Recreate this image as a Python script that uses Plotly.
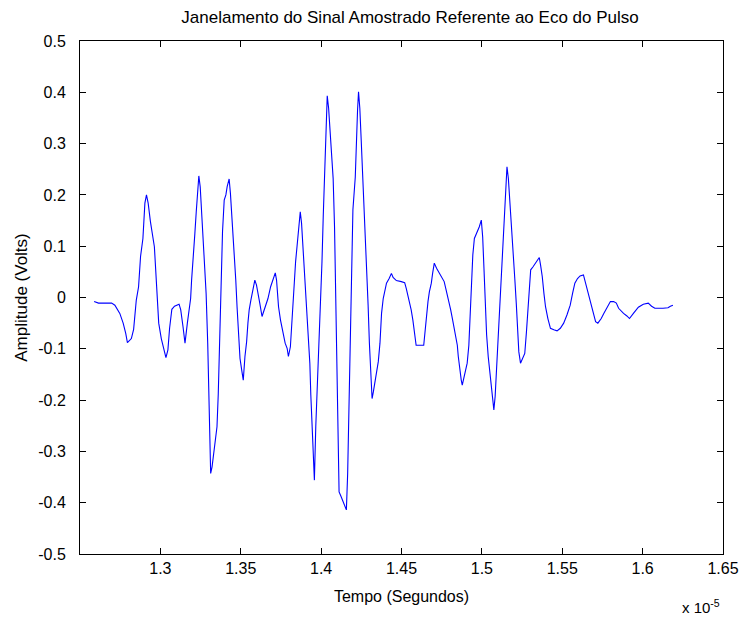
import plotly.graph_objects as go

# Time in units of 1e-5 s, amplitude in volts
tempo_e5 = [
    1.25879, 1.26149, 1.26966, 1.27169, 1.27476, 1.27685, 1.27845, 1.27949, 1.28195, 1.28336,
    1.28502, 1.28644, 1.28767, 1.28914, 1.29037, 1.29135, 1.29240, 1.29381, 1.29627, 1.29774,
    1.29897, 1.30057, 1.30223, 1.30346, 1.30469, 1.30573, 1.30714, 1.30880, 1.31163, 1.31267,
    1.31409, 1.31532, 1.31679, 1.31777, 1.31882, 1.31943, 1.32023, 1.32146, 1.32232, 1.32312,
    1.32392, 1.32478, 1.32558, 1.32699, 1.32846, 1.32945, 1.33006, 1.33068, 1.33129, 1.33215,
    1.33295, 1.33418, 1.33522, 1.33602, 1.33682, 1.33768, 1.33866, 1.33971, 1.34075, 1.34155,
    1.34278, 1.34358, 1.34481, 1.34585, 1.34690, 1.34770, 1.34849, 1.34954, 1.35058, 1.35157,
    1.35261, 1.35366, 1.35446, 1.35525, 1.35630, 1.35753, 1.35876, 1.35980, 1.36078, 1.36183,
    1.36324, 1.36447, 1.36693, 1.36859, 1.37000, 1.37148, 1.37227, 1.37350, 1.37473, 1.37615,
    1.37762, 1.37885, 1.37965, 1.38088, 1.38168, 1.38253, 1.38333, 1.38413, 1.38499, 1.38579,
    1.38659, 1.38702, 1.38782, 1.38886, 1.38990, 1.39089, 1.39194, 1.39298, 1.39359, 1.39439,
    1.39501, 1.39581, 1.39667, 1.39765, 1.39870, 1.39974, 1.40054, 1.40134, 1.40238, 1.40300,
    1.40380, 1.40466, 1.40545, 1.40668, 1.40748, 1.40834, 1.40914, 1.40975, 1.41037, 1.41117,
    1.41240, 1.41406, 1.41571, 1.41651, 1.41731, 1.41817, 1.41897, 1.41977, 1.42125, 1.42186,
    1.42266, 1.42327, 1.42407, 1.42493, 1.42573, 1.42677, 1.42757, 1.42837, 1.42923, 1.43003,
    1.43083, 1.43169, 1.43249, 1.43353, 1.43451, 1.43556, 1.43660, 1.43759, 1.43863, 1.43968,
    1.44066, 1.44232, 1.44373, 1.44478, 1.44680, 1.44988, 1.45197, 1.45295, 1.45400, 1.45504,
    1.45602, 1.45707, 1.45811, 1.45910, 1.46383, 1.46487, 1.46567, 1.46647, 1.46733, 1.46855,
    1.46935, 1.47040, 1.47181, 1.47347, 1.47507, 1.47655, 1.47753, 1.47857, 1.47962, 1.48060,
    1.48165, 1.48269, 1.48367, 1.48472, 1.48533, 1.48613, 1.48717, 1.48779, 1.48883, 1.48981,
    1.49086, 1.49190, 1.49270, 1.49350, 1.49436, 1.49534, 1.49682, 1.49841, 1.49964, 1.50050,
    1.50130, 1.50210, 1.50296, 1.50394, 1.50517, 1.50622, 1.50683, 1.50745, 1.50825, 1.50911,
    1.50990, 1.51070, 1.51156, 1.51236, 1.51340, 1.51402, 1.51482, 1.51562, 1.51648, 1.51728,
    1.51808, 1.51893, 1.51973, 1.52053, 1.52139, 1.52219, 1.52299, 1.52403, 1.52526, 1.52668,
    1.52773, 1.52877, 1.52957, 1.53037, 1.53184, 1.53326, 1.53449, 1.53572, 1.53652, 1.53756,
    1.53860, 1.53959, 1.54106, 1.54266, 1.54475, 1.54678, 1.54880, 1.55089, 1.55292, 1.55495,
    1.55642, 1.55784, 1.55949, 1.56109, 1.56318, 1.56459, 1.56601, 1.56767, 1.56932, 1.57074,
    1.57215, 1.57424, 1.57584, 1.57792, 1.57995, 1.58198, 1.58364, 1.58506, 1.58610, 1.58813,
    1.59022, 1.59182, 1.59427, 1.59735, 1.60042, 1.60350, 1.60558, 1.60761, 1.61271, 1.61578,
    1.61726, 1.61886,
]

amplitude_v = [
    -0.008, -0.011, -0.011, -0.015, -0.031, -0.050, -0.070, -0.088, -0.080, -0.062,
    -0.005, 0.021, 0.080, 0.115, 0.184, 0.200, 0.184, 0.148, 0.099, 0.024,
    -0.050, -0.080, -0.099, -0.117, -0.102, -0.060, -0.023, -0.017, -0.013, -0.024,
    -0.057, -0.089, -0.050, -0.024, -0.002, 0.034, 0.080, 0.125, 0.167, 0.216,
    0.237, 0.216, 0.171, 0.083, 0.008, -0.089, -0.193, -0.291, -0.343, -0.330,
    -0.310, -0.271, -0.252, -0.187, -0.083, 0.021, 0.128, 0.190, 0.200, 0.216,
    0.231, 0.203, 0.145, 0.086, 0.034, -0.018, -0.070, -0.119, -0.141, -0.161,
    -0.115, -0.086, -0.050, -0.024, -0.005, 0.015, 0.034, 0.024, 0.002, -0.011,
    -0.037, -0.024, -0.002, 0.021, 0.034, 0.048, 0.034, -0.018, -0.044, -0.070,
    -0.089, -0.099, -0.115, -0.096, -0.050, -0.008, 0.034, 0.070, 0.099, 0.125,
    0.154, 0.167, 0.145, 0.089, 0.037, -0.018, -0.070, -0.128, -0.190, -0.255,
    -0.317, -0.356, -0.252, -0.177, -0.096, -0.024, 0.070, 0.161, 0.252, 0.346,
    0.393, 0.369, 0.323, 0.278, 0.232, 0.138, -0.008, -0.158, -0.304, -0.379,
    -0.388, -0.401, -0.414, -0.343, -0.206, -0.070, 0.070, 0.171, 0.235, 0.304,
    0.365, 0.401, 0.369, 0.307, 0.249, 0.187, 0.128, 0.060, -0.015, -0.089,
    -0.158, -0.197, -0.184, -0.164, -0.148, -0.125, -0.089, -0.031, -0.002, 0.018,
    0.028, 0.037, 0.047, 0.039, 0.033, 0.031, 0.029, 0.018, 0.005, -0.008,
    -0.024, -0.044, -0.070, -0.093, -0.093, -0.057, -0.031, -0.008, 0.011, 0.028,
    0.047, 0.067, 0.057, 0.047, 0.037, 0.031, 0.018, 0.005, -0.008, -0.024,
    -0.041, -0.057, -0.076, -0.093, -0.115, -0.138, -0.161, -0.171, -0.158, -0.145,
    -0.128, -0.093, -0.034, 0.024, 0.083, 0.115, 0.125, 0.138, 0.151, 0.118,
    0.057, -0.011, -0.073, -0.115, -0.148, -0.177, -0.197, -0.219, -0.193, -0.141,
    -0.096, -0.044, 0.011, 0.063, 0.118, 0.171, 0.226, 0.255, 0.232, 0.196,
    0.161, 0.125, 0.080, 0.034, -0.011, -0.060, -0.106, -0.128, -0.119, -0.109,
    -0.067, -0.024, 0.015, 0.054, 0.060, 0.067, 0.073, 0.078, 0.063, 0.041,
    0.008, -0.018, -0.041, -0.060, -0.063, -0.065, -0.060, -0.050, -0.034, -0.015,
    0.008, 0.028, 0.037, 0.042, 0.044, 0.028, 0.008, -0.011, -0.031, -0.047,
    -0.050, -0.041, -0.031, -0.018, -0.008, -0.008, -0.011, -0.021, -0.025, -0.031,
    -0.036, -0.041, -0.031, -0.019, -0.013, -0.011, -0.017, -0.021, -0.021, -0.020,
    -0.017, -0.015,
]

x_ticks = [1.3, 1.35, 1.4, 1.45, 1.5, 1.55, 1.6, 1.65]
x_ticktext = ["1.3", "1.35", "1.4", "1.45", "1.5", "1.55", "1.6", "1.65"]
y_ticks = [0.5, 0.4, 0.3, 0.2, 0.1, 0, -0.1, -0.2, -0.3, -0.4, -0.5]
y_ticktext = ["0.5", "0.4", "0.3", "0.2", "0.1", "0", "-0.1", "-0.2", "-0.3", "-0.4", "-0.5"]

FONT = "Liberation Sans, Arial, sans-serif"

fig = go.Figure()
fig.add_trace(go.Scatter(
    x=tempo_e5, y=amplitude_v, mode="lines",
    line=dict(color="#0000ff", width=1.1),
    showlegend=False, hoverinfo="skip",
))

axis_common = dict(
    showline=True, linecolor="black", linewidth=1, mirror="ticks",
    ticks="inside", ticklen=6, tickcolor="black", tickwidth=1,
    showgrid=False, zeroline=False, ticklabeloverflow="allow",
    tickfont=dict(family=FONT, size=16, color="black"),
)

fig.update_layout(
    width=751, height=617,
    margin=dict(l=80, r=17, t=41, b=63),
    paper_bgcolor="white", plot_bgcolor="white",
    font=dict(family=FONT, size=16, color="black"),
    title=dict(
        text="Janelamento do Sinal Amostrado Referente ao Eco do Pulso",
        x=0.546, xanchor="center", y=0.973, yanchor="middle",
        font=dict(family=FONT, size=17, color="black"),
    ),
    xaxis=dict(
        range=[1.25, 1.65], tickvals=x_ticks, ticktext=x_ticktext,
        title=dict(text="Tempo (Segundos)", standoff=14,
                   font=dict(family=FONT, size=16, color="black")),
        **axis_common,
    ),
    yaxis=dict(
        range=[-0.5, 0.5], tickvals=y_ticks, ticktext=y_ticktext,
        ticklabelstandoff=10,
        title=dict(text="Amplitude (Volts)", standoff=6,
                   font=dict(family=FONT, size=17, color="black")),
        **axis_common,
    ),
    annotations=[dict(
        text="x 10<sup>-5</sup>", xref="paper", yref="paper",
        x=0.998, y=-0.08, xanchor="right", yanchor="top", showarrow=False,
        font=dict(family=FONT, size=15, color="black"),
    )],
)

fig.write_html("out.html")
